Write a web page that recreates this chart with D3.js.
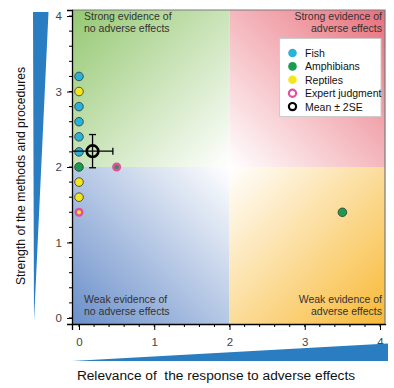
<!DOCTYPE html>
<html>
<head>
<meta charset="utf-8">
<script src="https://cdn.jsdelivr.net/npm/d3@7"></script>
<style>
  body { margin: 0; background: #fff; }
  text { font-family: "Liberation Sans", Arial, sans-serif; }
</style>
</head>
<body>
<svg id="chart" width="394" height="388"></svg>
<script>
// data
const relevance = [0, 0, 0, 0, 0, 0, 0, 0, 0, 0, 0.5, 3.5]
const strength  = [3.2, 3.0, 2.8, 2.6, 2.4, 2.2, 2.0, 1.8, 1.6, 1.4, 2.0, 1.4]
const taxon     = ['Fish', 'Reptiles', 'Fish', 'Fish', 'Fish', 'Fish', 'Amphibians', 'Reptiles', 'Reptiles', 'Reptiles', 'Amphibians', 'Amphibians']
const expert    = [false, false, false, false, false, false, false, false, false, true, true, false]
const meanPoint = [0.18, 2.21]
const meanErr   = [0.27, 0.22]
const xTicks = [0, 1, 2, 3, 4]
const yTicks = [0, 1, 2, 3, 4]
const legendLabels = ['Fish', 'Amphibians', 'Reptiles', 'Expert judgment', 'Mean \u00b1 2SE']
const quadrantLabels = [
  ['Strong evidence of', 'no adverse effects'],
  ['Strong evidence of', 'adverse effects'],
  ['Weak evidence of', 'no adverse effects'],
  ['Weak evidence of', 'adverse effects']
]

const colour = { Fish: '#2ab2d8', Amphibians: '#1b9b52', Reptiles: '#f3e61c' }
const pink = '#e2509c'
const wedgeBlue = '#2a7dc0'

const svg = d3.select('#chart')
const x = d3.scaleLinear().domain([-0.093, 4.066]).range([72, 385])
const y = d3.scaleLinear().domain([-0.08, 4.08]).range([324, 10])

const defs = svg.append('defs')
function grad(id, c, x1, y1, x2, y2) {
  const g = defs.append('linearGradient').attr('id', id)
    .attr('x1', x1).attr('y1', y1).attr('x2', x2).attr('y2', y2)
  g.append('stop').attr('offset', '0%').attr('stop-color', c)
  g.append('stop').attr('offset', '100%').attr('stop-color', '#fff')
}
grad('gTL', '#95c872', 0, 0, 1, 1)
grad('gTR', '#e9707c', 1, 0, 0, 1)
grad('gBL', '#6a8fca', 0, 1, 1, 0)
grad('gBR', '#f8b935', 1, 1, 0, 0)

// quadrants
const x0 = x.domain()[0], x1 = x.domain()[1], y0 = y.domain()[0], y1 = y.domain()[1]
const quads = [
  { id: 'gTL', xa: x0, xb: 2, ya: 2, yb: y1 },
  { id: 'gTR', xa: 2, xb: x1, ya: 2, yb: y1 },
  { id: 'gBL', xa: x0, xb: 2, ya: y0, yb: 2 },
  { id: 'gBR', xa: 2, xb: x1, ya: y0, yb: 2 }
]
svg.selectAll('rect.quad').data(quads).enter().append('rect')
  .attr('class', 'quad')
  .attr('x', d => x(d.xa)).attr('y', d => y(d.yb))
  .attr('width', d => x(d.xb) - x(d.xa)).attr('height', d => y(d.ya) - y(d.yb))
  .attr('fill', d => 'url(#' + d.id + ')')

// frame top/right
svg.append('path')
  .attr('d', `M${x(x0)},${y(y1)}H${x(x1)}V${y(y0)}`)
  .attr('fill', 'none').attr('stroke', '#7a7a7a').attr('stroke-width', 1.2)

// quadrant labels
const qText = svg.append('g').attr('font-size', 10.5).attr('fill', '#333')
quadrantLabels.forEach((lines, i) => {
  const right = i % 2 === 1
  const top = i < 2
  const tx = right ? 382 : 84
  const ty = top ? 20 : 303
  lines.forEach((s, j) => {
    qText.append('text').attr('x', tx).attr('y', ty + j * 12)
      .attr('text-anchor', right ? 'end' : 'start').text(s)
  })
})

// axes
const xAxis = svg.append('g').attr('transform', `translate(0,${y(y0)})`)
  .call(d3.axisBottom(x).tickValues(xTicks).tickFormat(d3.format('d')).tickSize(6).tickPadding(8))
xAxis.append('g').selectAll('line').data(d3.range(0, 4.01, 0.2)).enter().append('line')
  .attr('x1', d => x(d)).attr('x2', d => x(d)).attr('y1', 0).attr('y2', 3).attr('stroke', '#000')
const yAxis = svg.append('g').attr('transform', `translate(${x(x0)},0)`)
  .call(d3.axisLeft(y).tickValues(yTicks).tickFormat(d3.format('d')).tickSize(5).tickPadding(5))
yAxis.append('g').selectAll('line').data(d3.range(0, 4.01, 0.2)).enter().append('line')
  .attr('y1', d => y(d)).attr('y2', d => y(d)).attr('x1', 0).attr('x2', -3).attr('stroke', '#000')
svg.selectAll('.domain').attr('stroke', '#000').attr('stroke-width', 1.3)
  .attr('d', function() { return d3.select(this).attr('d').replace(/V6|V0/g, 'V0').replace(/H-6|H0/g, 'H0') })
svg.selectAll('.tick text').attr('font-size', 11.5).attr('fill', '#444')
  .attr('font-family', '"Liberation Sans", Arial, sans-serif')

// wedges
svg.append('path').attr('d', 'M33,12L48.5,12L34,321Z').attr('fill', wedgeBlue)
svg.append('path').attr('d', 'M72,361L388,343.5L388,361Z').attr('fill', wedgeBlue)

// axis titles
svg.append('text').attr('transform', 'translate(24.5,176) rotate(-90)')
  .attr('text-anchor', 'middle').attr('font-size', 12.2).attr('fill', '#111')
  .text('Strength of the methods and procedures')
svg.append('text').attr('x', 216).attr('y', 380)
  .attr('text-anchor', 'middle').attr('font-size', 13.7).attr('fill', '#111')
  .attr('xml:space', 'preserve').style('white-space', 'pre')
  .text('Relevance of  the response to adverse effects')

// mean with error bars
const mg = svg.append('g').attr('stroke', '#000').attr('stroke-width', 1.3)
const mx = meanPoint[0], my = meanPoint[1]
mg.append('line').attr('x1', x(mx - meanErr[0])).attr('x2', x(mx + meanErr[0])).attr('y1', y(my)).attr('y2', y(my))
mg.append('line').attr('x1', x(mx)).attr('x2', x(mx)).attr('y1', y(my - meanErr[1])).attr('y2', y(my + meanErr[1]))

// points
const pts = relevance.map((r, i) => ({ r: r, s: strength[i], t: taxon[i], e: expert[i] }))
svg.append('g').selectAll('circle').data(pts).enter().append('circle')
  .attr('cx', d => x(d.r)).attr('cy', d => y(d.s))
  .attr('r', d => d.e ? 3.3 : 4.3)
  .attr('fill', d => colour[d.t])
  .attr('stroke', d => d.e ? pink : '#333')
  .attr('stroke-width', d => d.e ? 2.4 : 0.8)

// caps drawn over points
mg.raise()
const cap = 3.5
mg.append('line').attr('x1', x(mx + meanErr[0])).attr('x2', x(mx + meanErr[0])).attr('y1', y(my) - cap).attr('y2', y(my) + cap)
mg.append('line').attr('x1', x(mx) - cap).attr('x2', x(mx) + cap).attr('y1', y(my + meanErr[1])).attr('y2', y(my + meanErr[1]))
mg.append('line').attr('x1', x(mx) - cap).attr('x2', x(mx) + cap).attr('y1', y(my - meanErr[1])).attr('y2', y(my - meanErr[1]))
svg.append('circle').attr('cx', x(mx)).attr('cy', y(my)).attr('r', 5.8)
  .attr('fill', 'none').attr('stroke', '#000').attr('stroke-width', 2.6)

// legend
const lg = svg.append('g')
lg.append('rect').attr('x', 279.5).attr('y', 38.5).attr('width', 101.5).attr('height', 78)
  .attr('fill', '#fff').attr('stroke', '#ccc').attr('stroke-width', 1)
const legendMarks = [
  { fill: colour.Fish, stroke: 'none', sw: 0, r: 4.3 },
  { fill: colour.Amphibians, stroke: 'none', sw: 0, r: 4.3 },
  { fill: colour.Reptiles, stroke: 'none', sw: 0, r: 4.3 },
  { fill: '#fff', stroke: pink, sw: 2.2, r: 3.6 },
  { fill: '#fff', stroke: '#000', sw: 2.2, r: 3.6 }
]
legendLabels.forEach((s, i) => {
  const ly = 53 + i * 13.4
  const m = legendMarks[i]
  lg.append('circle').attr('cx', 292.5).attr('cy', ly).attr('r', m.r)
    .attr('fill', m.fill).attr('stroke', m.stroke).attr('stroke-width', m.sw)
  lg.append('text').attr('x', 305).attr('y', ly + 4).attr('font-size', 10.5).attr('fill', '#111').text(s)
})
</script>
</body>
</html>
